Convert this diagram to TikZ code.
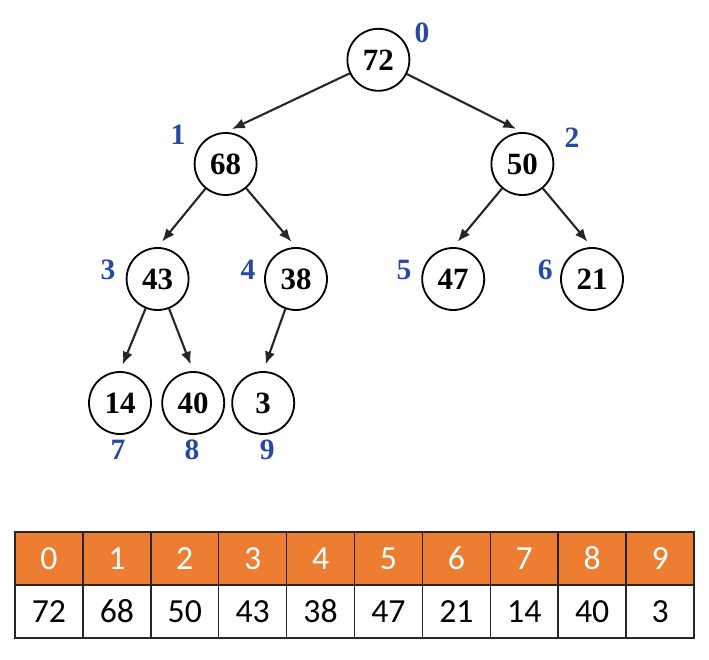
\documentclass[tikz,border=0pt]{standalone}
\usepackage{fontspec}
\setmainfont{Liberation Serif}
\newfontfamily\cellfont{Carlito}
\usepackage{xcolor}
\usetikzlibrary{arrows.meta, positioning}

\definecolor{idxblue}{RGB}{38,72,168}
\definecolor{hdrorange}{RGB}{237,125,49}

\begin{document}
\begin{tikzpicture}[
  font=\fontsize{22}{26}\selectfont\bfseries,
  heap/.style={circle, draw, line width=1.3pt, minimum size=1.55cm, inner sep=0pt},
  idx/.style={text=idxblue, font=\fontsize{21}{24}\selectfont\bfseries},
  cell/.style={rectangle, draw=black!85, line width=1.1pt, minimum width=1.6975cm,
               minimum height=1.325cm, inner sep=0pt,
               font=\cellfont\fontsize{24}{28}\selectfont},
  hcell/.style={cell, fill=hdrorange, text=white},
  vcell/.style={cell, fill=white},
  arr/.style={-{Latex[length=3.2mm, width=2.6mm]}, line width=1.5pt, black!85,
              shorten >=5pt},
  ]
  \useasboundingbox (0,0) rectangle (17.725,16.475);

  %% Heap nodes, level by level
  \node[heap] (n0) at (9.46, 14.98) {72};
  \node[heap] (n1) at (5.64, 12.375) {68};
  \node[heap] (n2) at (13.06, 12.375) {50};
  \node[heap] (n3) at (3.94, 9.5) {43};
  \node[heap] (n4) at (7.40, 9.5) {38};
  \node[heap] (n5) at (11.33, 9.5) {47};
  \node[heap] (n6) at (14.80, 9.5) {21};
  \node[heap] (n7) at (3.00, 6.4) {14};
  \node[heap] (n8) at (4.83, 6.4) {40};
  \node[heap] (n9) at (6.58, 6.4) {3};

  %% Array indices beside the nodes
  \node[idx] (i0) at (10.55, 15.65) {0};
  \node[idx] (i1) at (4.45, 13.10) {1};
  \node[idx] (i2) at (14.30, 13.03) {2};
  \node[idx] (i3) at (2.70, 9.73) {3};
  \node[idx] (i4) at (6.20, 9.73) {4};
  \node[idx] (i5) at (10.10, 9.73) {5};
  \node[idx] (i6) at (13.63, 9.73) {6};
  \node[idx] (i7) at (2.95, 5.23) {7};
  \node[idx] (i8) at (4.80, 5.23) {8};
  \node[idx] (i9) at (6.68, 5.23) {9};

  %% Parent -> child edges
  \draw[arr] (n0) -- (n1.north);
  \draw[arr] (n0) -- (n2.north);
  \draw[arr] (n1) -- (n3.north);
  \draw[arr] (n1) -- (n4.north);
  \draw[arr] (n2) -- (n5.north);
  \draw[arr] (n2) -- (n6.north);
  \draw[arr] (n3) -- (n7.north);
  \draw[arr] (n3) -- (n8.north);
  \draw[arr] (n4) -- (n9.north);

  %% Array: index row and value row
  \foreach \v [count=\k from 0] in {72,68,50,43,38,47,21,14,40,3} {
    \node[hcell] (h\k) at ({1.22375+1.6975*\k}, 2.5125) {\k};
    \node[vcell] (v\k) at ({1.22375+1.6975*\k}, 1.1875) {\v};
  }
\end{tikzpicture}
\end{document}
